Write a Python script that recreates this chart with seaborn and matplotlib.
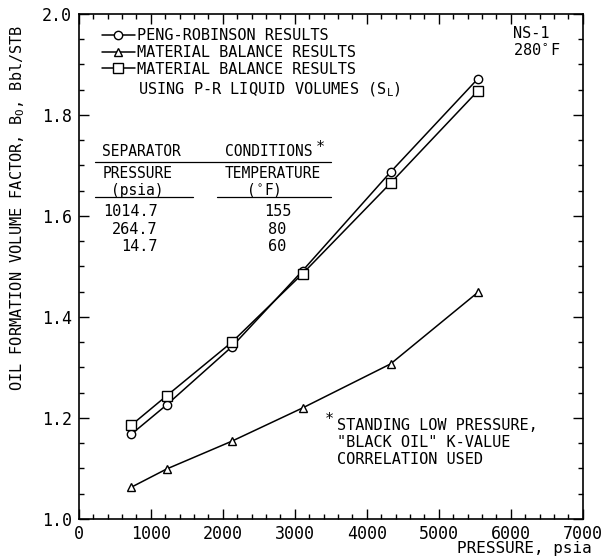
import seaborn as sns
import matplotlib.pyplot as plt
from matplotlib.ticker import MultipleLocator

# data
pressure = [730, 1220, 2125, 3110, 4330, 5545]
bo_peng_robinson = [1.168, 1.226, 1.341, 1.492, 1.687, 1.872]
bo_material_balance = [1.063, 1.099, 1.154, 1.220, 1.307, 1.449]
bo_mb_pr_volumes = [1.186, 1.244, 1.350, 1.486, 1.665, 1.848]

sep_pressure = ["1014.7", "264.7", "14.7"]
sep_temperature = ["155", "80", "60"]

sns.set_style("ticks")
plt.rcParams['font.family'] = ['DejaVu Sans Mono', 'DejaVu Sans']
plt.rcParams['mathtext.fontset'] = 'custom'
plt.rcParams['mathtext.rm'] = 'DejaVu Sans Mono'
plt.rcParams['mathtext.it'] = 'DejaVu Sans Mono'
plt.rcParams['text.color'] = 'black'
plt.rcParams['axes.labelcolor'] = 'black'
plt.rcParams['xtick.color'] = 'black'
plt.rcParams['ytick.color'] = 'black'
plt.rcParams['axes.edgecolor'] = 'black'

fig = plt.figure(figsize=(6.02, 5.59), dpi=100)
ax = fig.add_axes([0.131, 0.0716, 0.837, 0.9034])

style = dict(color='black', lw=1.1, ms=6, mfc='white', mec='black', mew=1)
sns.lineplot(x=pressure, y=bo_peng_robinson, ax=ax, marker='o',
             label='PENG-ROBINSON RESULTS', **style)
sns.lineplot(x=pressure, y=bo_material_balance, ax=ax, marker='^',
             label='MATERIAL BALANCE RESULTS', **style)
sns.lineplot(x=pressure, y=bo_mb_pr_volumes, ax=ax, marker='s',
             label='MATERIAL BALANCE RESULTS', **{**style, 'ms': 7})

ax.legend(loc='upper left', bbox_to_anchor=(0.045, 0.972), frameon=False,
          handlelength=2.2, handletextpad=0.1, labelspacing=0.12,
          borderaxespad=0, borderpad=0, fontsize=11)
ax.text(820, 1.849, 'USING P-R LIQUID VOLUMES (S$_\\mathrm{L}$)', fontsize=11,
        va='center', ha='left')

ax.set_xlim(0, 7000)
ax.set_ylim(1.0, 2.0)
ax.xaxis.set_major_locator(MultipleLocator(1000))
ax.xaxis.set_minor_locator(MultipleLocator(200))
ax.yaxis.set_major_locator(MultipleLocator(0.2))
ax.yaxis.set_minor_locator(MultipleLocator(0.05))
ax.yaxis.set_major_formatter(plt.FormatStrFormatter('%.1f'))
ax.tick_params(which='both', direction='in', top=True, right=True, width=1)
ax.tick_params(which='major', length=7, labelsize=12)
ax.tick_params(which='minor', length=3.5)
ax.tick_params(axis='x', pad=4)
ax.tick_params(axis='y', pad=5)
for s in ax.spines.values():
    s.set_linewidth(1.2)

ax.set_ylabel('OIL FORMATION VOLUME FACTOR, B$_\\mathrm{O}$, Bbl/STB', fontsize=11,
              va='center')
ax.yaxis.set_label_coords(-0.121, 0.616)
ax.set_xlabel('PRESSURE, psia', fontsize=11.5, ha='right', va='center')
ax.xaxis.set_label_coords(1.018, -0.058)

# NS-1 label
ax.text(6028, 1.962, 'NS-1', fontsize=11, va='center')
ax.text(6028, 1.929, '280$^\\circ$F', fontsize=11, va='center')

# separator conditions table
ax.text(320, 1.727, 'SEPARATOR', fontsize=10.5, va='center')
ax.text(2028, 1.727, 'CONDITIONS', fontsize=10.5, va='center')
ax.text(3290, 1.735, '*', fontsize=11, va='center')
ax.plot([222, 3500], [1.707, 1.707], color='black', lw=0.9)
ax.text(820, 1.685, 'PRESSURE', fontsize=10.5, va='center', ha='center')
ax.text(2700, 1.685, 'TEMPERATURE', fontsize=10.5, va='center', ha='center')
ax.text(806, 1.651, '(psia)', fontsize=10.5, va='center', ha='center')
ax.text(2560, 1.651, '($^\\circ$F)', fontsize=10.5, va='center', ha='center')
ax.plot([222, 1583], [1.638, 1.638], color='black', lw=0.9)
ax.plot([1917, 3500], [1.638, 1.638], color='black', lw=0.9)
for i, y in enumerate([1.608, 1.574, 1.539]):
    ax.text(1097, y, sep_pressure[i], fontsize=11, va='center', ha='right')
    ax.text(2760, y, sep_temperature[i], fontsize=11, va='center', ha='center')

# footnote
ax.text(3420, 1.196, '*', fontsize=11, va='center')
ax.text(3583, 1.186, 'STANDING LOW PRESSURE,', fontsize=11, va='center')
ax.text(3583, 1.151, '"BLACK OIL" K-VALUE', fontsize=11, va='center')
ax.text(3583, 1.117, 'CORRELATION USED', fontsize=11, va='center')

plt.savefig('out.png', dpi=100)
